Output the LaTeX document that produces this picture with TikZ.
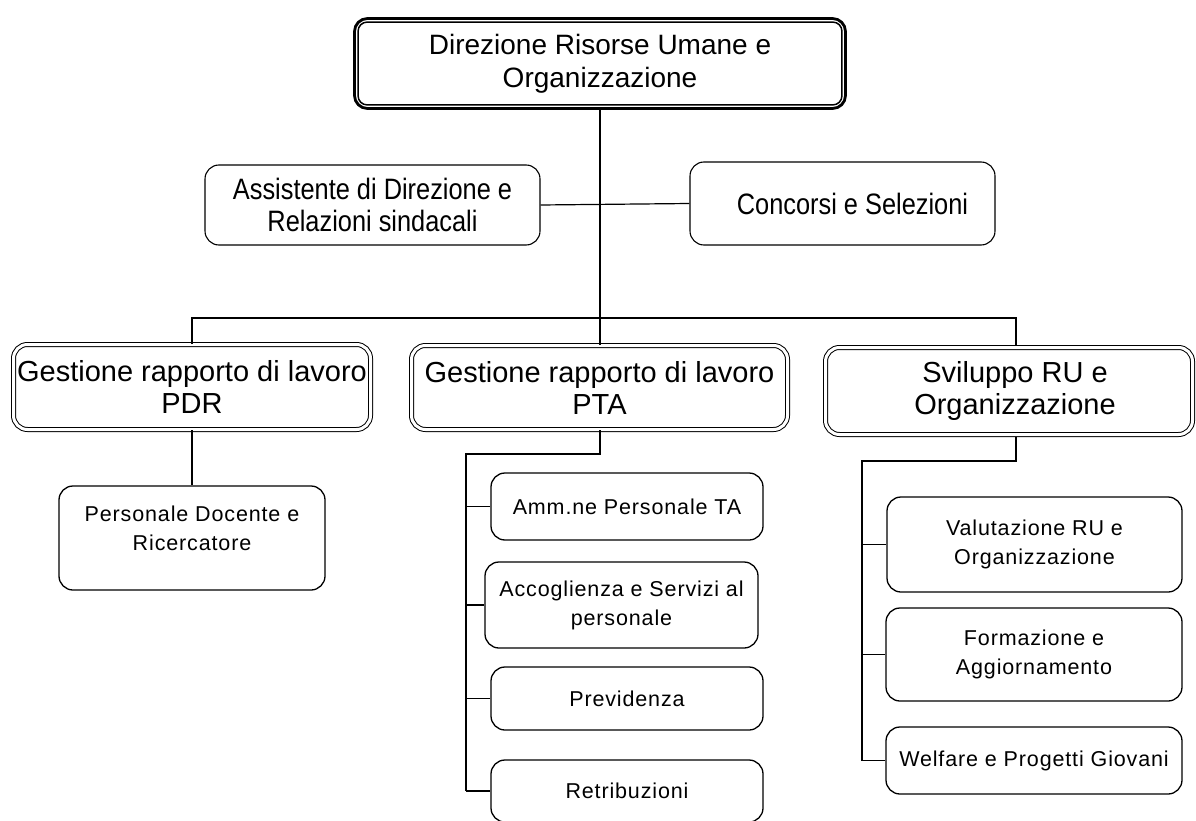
\documentclass[tikz,border=0pt]{standalone}
\usepackage{fontspec}
\setmainfont{Liberation Sans}
\newfontfamily\narrowfont{Liberation Sans}[FakeStretch=0.86]
\newfontfamily\leaffont{Liberation Sans}[LetterSpace=4]
\begin{document}
\begin{tikzpicture}[x=1pt,y=-1pt,
  topbox/.style={draw, line width=2.8pt, rounded corners=13pt,
    inner sep=0pt, align=center, font=\fontsize{28}{33}\selectfont},
  topinner/.style={draw, line width=1.5pt, rounded corners=9pt},
  lvltwo/.style={draw, line width=1pt, double=white, double distance=3pt, rounded corners=14pt,
    inner sep=0pt, align=center, font=\fontsize{29}{32}\selectfont},
  sidebox/.style={draw, line width=1.1pt, rounded corners=14pt, inner sep=0pt, align=center,
    font=\narrowfont\fontsize{29.5}{32}\selectfont},
  leaf/.style={draw, line width=1.3pt, rounded corners=14pt, inner sep=0pt, align=center,
    font=\leaffont\fontsize{21.5}{29}\selectfont},
  thick line/.style={line width=2pt},
  thin line/.style={line width=1.2pt}
]
\useasboundingbox (0,0) rectangle (1196,821);
\fill[white] (0,0) rectangle (1196,821);

% top
\node[topbox, minimum width=491pt, minimum height=90pt] (top) at (600,63.5)
  {Direzione Risorse Umane e\\Organizzazione};
\draw[topinner] ([shift={(5,5)}]top.north west) rectangle ([shift={(-5,-5)}]top.south east);

% side boxes
\node[sidebox, minimum width=335pt, minimum height=80pt] (ass) at (372.5,205)
  {Assistente di Direzione e\\Relazioni sindacali};
\node[sidebox, minimum width=305pt, minimum height=83pt] (con) at (842.5,203.5)
  {\hspace*{20pt}Concorsi e Selezioni};

% level two
\node[lvltwo, minimum width=357pt, minimum height=85pt] (pdr) at (192,387)
  {Gestione rapporto di lavoro\\PDR};
\node[lvltwo, minimum width=376pt, minimum height=84pt] (pta) at (599.5,387.5)
  {Gestione rapporto di lavoro\\PTA};
\node[lvltwo, minimum width=367pt, minimum height=87pt] (svi) at (1009,391)
  {\hspace*{12pt}Sviluppo RU e\\\hspace*{12pt}Organizzazione};

% leaves
\node[leaf, minimum width=266pt, minimum height=104pt, text depth=20pt] (doc) at (192,538)
  {Personale Docente e\\Ricercatore};
\node[leaf, minimum width=272pt, minimum height=67pt] (amm) at (627,506.5)
  {Amm.ne Personale TA};
\node[leaf, minimum width=273pt, minimum height=86pt] (acc) at (621.5,605)
  {Accoglienza e Servizi al\\personale};
\node[leaf, minimum width=272pt, minimum height=63pt] (pre) at (627,698.5)
  {Previdenza};
\node[leaf, minimum width=272pt, minimum height=62pt] (ret) at (627,791)
  {Retribuzioni};
\node[leaf, minimum width=295pt, minimum height=95pt] (val) at (1034.5,544.5)
  {Valutazione RU e\\Organizzazione};
\node[leaf, minimum width=296pt, minimum height=93pt] (for) at (1034,654.5)
  {Formazione e\\Aggiornamento};
\node[leaf, minimum width=296pt, minimum height=67pt] (wel) at (1034,760.5)
  {Welfare e Progetti Giovani};

% helper coordinates
\coordinate (busL) at (192,318);
\coordinate (busR) at (1016,318);
\coordinate (sviTop) at (1016,345);
\coordinate (sviBot) at (1016,437);
\coordinate (ptaTrunk) at (466,454);
\coordinate (sviTrunk) at (862,461);

% connectors
\draw[thick line] (top.south) -- (top.south |- pta.north);
\draw[thin line] (ass.east) -- (con.west);
\draw[thin line] (pdr.north) -- (busL) -- (busR) -- (sviTop);
\draw[thin line] (pdr.south) -- (doc.north);

\draw[thick line] (pta.south) |- (ptaTrunk) -- (ptaTrunk |- ret.west);
\draw[thin line] (ptaTrunk |- amm.west) -- (amm.west);
\draw[thin line] (ptaTrunk |- acc.west) -- (acc.west);
\draw[thin line] (ptaTrunk |- pre.west) -- (pre.west);
\draw[thin line] (ptaTrunk |- ret.west) -- (ret.west);

\draw[thick line] (sviBot) |- (sviTrunk) -- (sviTrunk |- wel.west);
\draw[thin line] (sviTrunk |- val.west) -- (val.west);
\draw[thin line] (sviTrunk |- for.west) -- (for.west);
\draw[thin line] (sviTrunk |- wel.west) -- (wel.west);
\end{tikzpicture}
\end{document}
